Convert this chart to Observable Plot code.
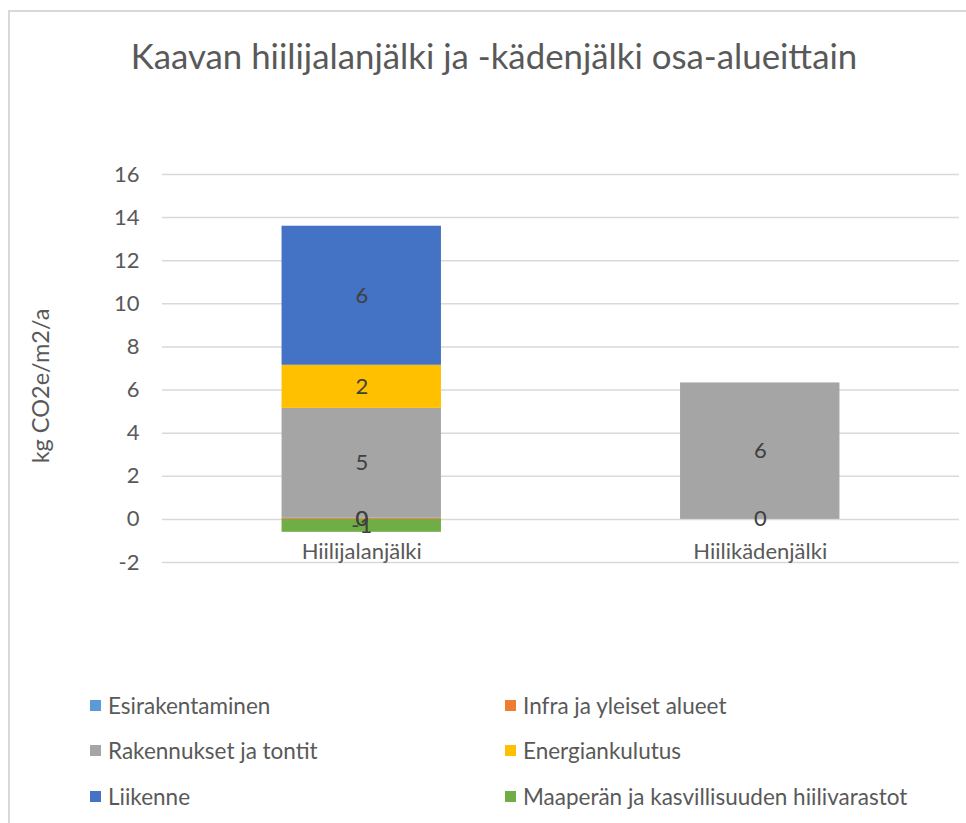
<!DOCTYPE html>
<html>
<head>
<meta charset="utf-8">
<script src="https://cdn.jsdelivr.net/npm/d3@7"></script>
<script src="https://cdn.jsdelivr.net/npm/@observablehq/plot@0.6"></script>
<style>
  html, body { margin: 0; padding: 0; background: #fff; }
  #wrap { position: relative; width: 966px; height: 823px; overflow: hidden; font-family: Lato, "Open Sans", sans-serif; color: #595959; }
  #frame { position: absolute; left: 8px; top: 10px; width: 1000px; height: 900px; border-left: 2px solid #d9d9d9; border-top: 2px solid #d9d9d9; box-sizing: border-box; }
  #title { position: absolute; left: 0; width: 988px; top: 35px; text-align: center; font-size: 34.8px; line-height: 42px; color: #595959; white-space: nowrap; }
  #ylabel { position: absolute; left: 40px; top: 386px; transform: translate(-50%, -50%) rotate(-90deg); font-size: 23.5px; white-space: nowrap; color: #595959; }
  #chart { position: absolute; left: 0; top: 140px; }
  .leg { position: absolute; font-size: 22.5px; line-height: 28px; white-space: nowrap; color: #595959; }
  .leg span.sw { position: absolute; left: -18px; top: 8px; width: 11px; height: 11px; }
</style>
</head>
<body>
<div id="wrap">
  <div id="frame"></div>
  <div id="title">Kaavan hiilijalanjälki ja -kädenjälki osa-alueittain</div>
  <div id="ylabel">kg CO2e/m2/a</div>
  <div id="chart"></div>
  <div id="legend"></div>
</div>
<script>
// ---- data ----
const categories = ["Hiilijalanjälki", "Hiilikädenjälki"];
const seriesNames = ["Esirakentaminen", "Infra ja yleiset alueet", "Rakennukset ja tontit", "Energiankulutus", "Liikenne", "Maaperän ja kasvillisuuden hiilivarastot"];
const seriesColors = ["#5b9bd5", "#ed7d31", "#a5a5a5", "#ffc000", "#4472c4", "#70ad47"];
const esirakentaminen = [0, 0];
const infra = [0.05, null];
const rakennukset = [5.1, 6.33];
const energiankulutus = [2.0, null];
const liikenne = [6.45, null];
const maapera = [-0.6, null];
const yTicks = [-2, 0, 2, 4, 6, 8, 10, 12, 14, 16];

const seriesValues = [esirakentaminen, infra, rakennukset, energiankulutus, liikenne, maapera];
const rows = [];
seriesNames.forEach((s, i) => {
  categories.forEach((c, j) => {
    const v = seriesValues[i][j];
    if (v !== null) rows.push({category: c, series: s, value: v});
  });
});

const W = 966, H = 460;
const FS = 22;
const plot = Plot.plot({
  width: W,
  height: H,
  marginLeft: 162,
  marginRight: 7,
  marginTop: 34,
  marginBottom: 38,
  style: {fontFamily: "Lato, 'Open Sans', sans-serif", fontSize: FS + "px", color: "#595959", background: "transparent"},
  x: {domain: categories, paddingInner: 0.6, paddingOuter: 0.3, round: false, axis: null},
  y: {domain: [-2, 16], axis: null},
  color: {domain: seriesNames, range: seriesColors},
  marks: [
    Plot.ruleY(yTicks, {stroke: "#d9d9d9", strokeWidth: 1.5}),
    Plot.axisY({ticks: yTicks, label: null, tickSize: 0, tickPadding: 23, tickFormat: d => String(d), fontSize: FS, fill: "#595959"}),
    Plot.barY(rows, Plot.stackY({x: "category", y: "value", z: "series", fill: "series", order: seriesNames})),
    Plot.text(rows, Plot.stackY({x: "category", y: "value", z: "series", order: seriesNames, text: d => String(Math.round(d.value)), fill: "#404040", fontSize: FS})),
    Plot.text(categories, {x: d => d, y: () => 0, dy: 33, text: d => d, fill: "#595959", fontSize: FS})
  ]
});
document.getElementById("chart").appendChild(plot);

// legend
const legend = document.getElementById("legend");
const legPos = [[108, 706], [523, 706], [108, 751], [523, 751], [108, 797], [523, 797]];
seriesNames.forEach((s, i) => {
  const d = document.createElement("div");
  d.className = "leg";
  d.style.left = legPos[i][0] + "px";
  d.style.top = (legPos[i][1] - 14) + "px";
  const sw = document.createElement("span");
  sw.className = "sw";
  sw.style.background = seriesColors[i];
  d.appendChild(sw);
  d.appendChild(document.createTextNode(s));
  legend.appendChild(d);
});
</script>
</body>
</html>
